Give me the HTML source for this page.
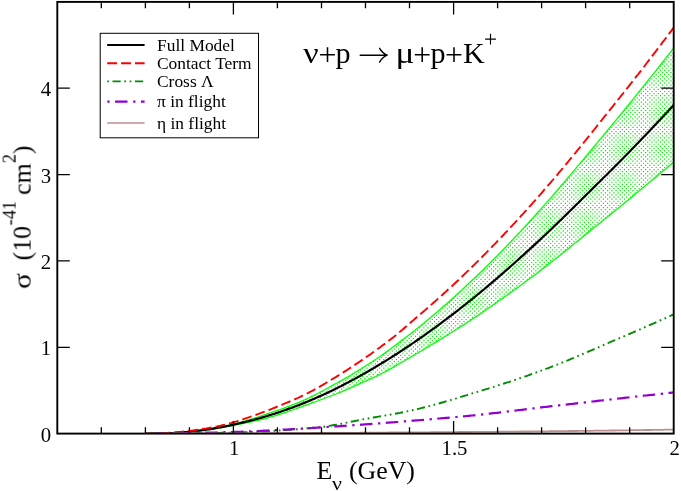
<!DOCTYPE html>
<html><head><meta charset="utf-8"><title>plot</title><style>html,body{margin:0;padding:0;background:#fff;}svg{display:block;will-change:transform;}text{font-family:"Liberation Serif",serif;fill:#000;}</style></head><body>
<svg width="681" height="491" viewBox="0 0 681 491">
<defs>
<pattern id="dots" x="626" y="112" width="38.0" height="38.0" patternUnits="userSpaceOnUse"><rect width="38.0" height="38.0" fill="#fff"/><path d="M0.00,0.00h1.2v1.2h-1.2zM4.22,0.00h1.2v1.2h-1.2zM8.44,0.00h1.2v1.2h-1.2zM12.67,0.00h1.2v1.2h-1.2zM16.89,0.00h1.2v1.2h-1.2zM21.11,0.00h1.2v1.2h-1.2zM25.33,0.00h1.2v1.2h-1.2zM29.56,0.00h1.2v1.2h-1.2zM33.78,0.00h1.2v1.2h-1.2zM2.11,2.11h1.2v1.2h-1.2zM6.33,2.11h1.2v1.2h-1.2zM10.56,2.11h1.2v1.2h-1.2zM14.78,2.11h1.2v1.2h-1.2zM19.00,2.11h1.2v1.2h-1.2zM23.22,2.11h1.2v1.2h-1.2zM27.44,2.11h1.2v1.2h-1.2zM31.67,2.11h1.2v1.2h-1.2zM35.89,2.11h1.2v1.2h-1.2zM0.00,4.22h1.2v1.2h-1.2zM4.22,4.22h1.2v1.2h-1.2zM8.44,4.22h1.2v1.2h-1.2zM12.67,4.22h1.2v1.2h-1.2zM16.89,4.22h1.2v1.2h-1.2zM21.11,4.22h1.2v1.2h-1.2zM25.33,4.22h1.2v1.2h-1.2zM29.56,4.22h1.2v1.2h-1.2zM33.78,4.22h1.2v1.2h-1.2zM2.11,6.33h1.2v1.2h-1.2zM6.33,6.33h1.2v1.2h-1.2zM10.56,6.33h1.2v1.2h-1.2zM14.78,6.33h1.2v1.2h-1.2zM19.00,6.33h1.2v1.2h-1.2zM23.22,6.33h1.2v1.2h-1.2zM27.44,6.33h1.2v1.2h-1.2zM31.67,6.33h1.2v1.2h-1.2zM35.89,6.33h1.2v1.2h-1.2zM0.00,8.44h1.2v1.2h-1.2zM4.22,8.44h1.2v1.2h-1.2zM8.44,8.44h1.2v1.2h-1.2zM12.67,8.44h1.2v1.2h-1.2zM16.89,8.44h1.2v1.2h-1.2zM21.11,8.44h1.2v1.2h-1.2zM25.33,8.44h1.2v1.2h-1.2zM29.56,8.44h1.2v1.2h-1.2zM33.78,8.44h1.2v1.2h-1.2zM2.11,10.56h1.2v1.2h-1.2zM6.33,10.56h1.2v1.2h-1.2zM10.56,10.56h1.2v1.2h-1.2zM14.78,10.56h1.2v1.2h-1.2zM19.00,10.56h1.2v1.2h-1.2zM23.22,10.56h1.2v1.2h-1.2zM27.44,10.56h1.2v1.2h-1.2zM31.67,10.56h1.2v1.2h-1.2zM35.89,10.56h1.2v1.2h-1.2zM0.00,12.67h1.2v1.2h-1.2zM4.22,12.67h1.2v1.2h-1.2zM8.44,12.67h1.2v1.2h-1.2zM12.67,12.67h1.2v1.2h-1.2zM16.89,12.67h1.2v1.2h-1.2zM21.11,12.67h1.2v1.2h-1.2zM25.33,12.67h1.2v1.2h-1.2zM29.56,12.67h1.2v1.2h-1.2zM33.78,12.67h1.2v1.2h-1.2zM2.11,14.78h1.2v1.2h-1.2zM6.33,14.78h1.2v1.2h-1.2zM10.56,14.78h1.2v1.2h-1.2zM14.78,14.78h1.2v1.2h-1.2zM19.00,14.78h1.2v1.2h-1.2zM23.22,14.78h1.2v1.2h-1.2zM27.44,14.78h1.2v1.2h-1.2zM31.67,14.78h1.2v1.2h-1.2zM35.89,14.78h1.2v1.2h-1.2zM0.00,16.89h1.2v1.2h-1.2zM4.22,16.89h1.2v1.2h-1.2zM8.44,16.89h1.2v1.2h-1.2zM12.67,16.89h1.2v1.2h-1.2zM16.89,16.89h1.2v1.2h-1.2zM21.11,16.89h1.2v1.2h-1.2zM25.33,16.89h1.2v1.2h-1.2zM29.56,16.89h1.2v1.2h-1.2zM33.78,16.89h1.2v1.2h-1.2zM2.11,19.00h1.2v1.2h-1.2zM6.33,19.00h1.2v1.2h-1.2zM10.56,19.00h1.2v1.2h-1.2zM14.78,19.00h1.2v1.2h-1.2zM19.00,19.00h1.2v1.2h-1.2zM23.22,19.00h1.2v1.2h-1.2zM27.44,19.00h1.2v1.2h-1.2zM31.67,19.00h1.2v1.2h-1.2zM35.89,19.00h1.2v1.2h-1.2zM0.00,21.11h1.2v1.2h-1.2zM4.22,21.11h1.2v1.2h-1.2zM8.44,21.11h1.2v1.2h-1.2zM12.67,21.11h1.2v1.2h-1.2zM16.89,21.11h1.2v1.2h-1.2zM21.11,21.11h1.2v1.2h-1.2zM25.33,21.11h1.2v1.2h-1.2zM29.56,21.11h1.2v1.2h-1.2zM33.78,21.11h1.2v1.2h-1.2zM2.11,23.22h1.2v1.2h-1.2zM6.33,23.22h1.2v1.2h-1.2zM10.56,23.22h1.2v1.2h-1.2zM14.78,23.22h1.2v1.2h-1.2zM19.00,23.22h1.2v1.2h-1.2zM23.22,23.22h1.2v1.2h-1.2zM27.44,23.22h1.2v1.2h-1.2zM31.67,23.22h1.2v1.2h-1.2zM35.89,23.22h1.2v1.2h-1.2zM0.00,25.33h1.2v1.2h-1.2zM4.22,25.33h1.2v1.2h-1.2zM8.44,25.33h1.2v1.2h-1.2zM12.67,25.33h1.2v1.2h-1.2zM16.89,25.33h1.2v1.2h-1.2zM21.11,25.33h1.2v1.2h-1.2zM25.33,25.33h1.2v1.2h-1.2zM29.56,25.33h1.2v1.2h-1.2zM33.78,25.33h1.2v1.2h-1.2zM2.11,27.44h1.2v1.2h-1.2zM6.33,27.44h1.2v1.2h-1.2zM10.56,27.44h1.2v1.2h-1.2zM14.78,27.44h1.2v1.2h-1.2zM19.00,27.44h1.2v1.2h-1.2zM23.22,27.44h1.2v1.2h-1.2zM27.44,27.44h1.2v1.2h-1.2zM31.67,27.44h1.2v1.2h-1.2zM35.89,27.44h1.2v1.2h-1.2zM0.00,29.56h1.2v1.2h-1.2zM4.22,29.56h1.2v1.2h-1.2zM8.44,29.56h1.2v1.2h-1.2zM12.67,29.56h1.2v1.2h-1.2zM16.89,29.56h1.2v1.2h-1.2zM21.11,29.56h1.2v1.2h-1.2zM25.33,29.56h1.2v1.2h-1.2zM29.56,29.56h1.2v1.2h-1.2zM33.78,29.56h1.2v1.2h-1.2zM2.11,31.67h1.2v1.2h-1.2zM6.33,31.67h1.2v1.2h-1.2zM10.56,31.67h1.2v1.2h-1.2zM14.78,31.67h1.2v1.2h-1.2zM19.00,31.67h1.2v1.2h-1.2zM23.22,31.67h1.2v1.2h-1.2zM27.44,31.67h1.2v1.2h-1.2zM31.67,31.67h1.2v1.2h-1.2zM35.89,31.67h1.2v1.2h-1.2zM0.00,33.78h1.2v1.2h-1.2zM4.22,33.78h1.2v1.2h-1.2zM8.44,33.78h1.2v1.2h-1.2zM12.67,33.78h1.2v1.2h-1.2zM16.89,33.78h1.2v1.2h-1.2zM21.11,33.78h1.2v1.2h-1.2zM25.33,33.78h1.2v1.2h-1.2zM29.56,33.78h1.2v1.2h-1.2zM33.78,33.78h1.2v1.2h-1.2zM2.11,35.89h1.2v1.2h-1.2zM6.33,35.89h1.2v1.2h-1.2zM10.56,35.89h1.2v1.2h-1.2zM14.78,35.89h1.2v1.2h-1.2zM19.00,35.89h1.2v1.2h-1.2zM23.22,35.89h1.2v1.2h-1.2zM27.44,35.89h1.2v1.2h-1.2zM31.67,35.89h1.2v1.2h-1.2zM35.89,35.89h1.2v1.2h-1.2z" fill="#00ea00"/></pattern>
<clipPath id="clip"><rect x="57.3" y="1.9" width="616.4000000000001" height="431.70000000000005"/></clipPath>
</defs>
<rect width="681" height="491" fill="#fff"/>
<g clip-path="url(#clip)">
<path d="M145.4,433.6 L146.7,433.6 L148.0,433.6 L149.4,433.6 L150.7,433.5 L152.0,433.5 L153.3,433.5 L154.7,433.5 L156.0,433.5 L157.3,433.5 L158.6,433.4 L160.0,433.4 L161.3,433.4 L162.6,433.3 L163.9,433.3 L165.3,433.3 L166.6,433.2 L167.9,433.2 L169.2,433.1 L170.6,433.0 L171.9,433.0 L173.2,432.9 L174.5,432.8 L175.9,432.7 L177.2,432.6 L178.5,432.6 L179.8,432.5 L181.1,432.3 L182.5,432.2 L183.8,432.1 L185.1,432.0 L186.4,431.9 L187.8,431.8 L189.1,431.6 L190.4,431.5 L191.7,431.3 L193.1,431.2 L194.4,431.0 L195.7,430.9 L197.0,430.7 L198.4,430.6 L199.7,430.4 L201.0,430.2 L202.3,430.0 L203.7,429.8 L205.0,429.6 L206.3,429.4 L207.6,429.2 L209.0,429.0 L210.3,428.8 L211.6,428.6 L212.9,428.3 L214.3,428.1 L215.6,427.8 L216.9,427.6 L218.2,427.3 L219.5,427.1 L220.9,426.8 L222.2,426.5 L223.5,426.3 L224.8,426.0 L226.2,425.7 L227.5,425.4 L228.8,425.1 L230.1,424.8 L231.5,424.5 L232.8,424.1 L234.1,423.8 L235.4,423.5 L236.8,423.1 L238.1,422.8 L239.4,422.4 L240.7,422.1 L242.1,421.7 L243.4,421.3 L244.7,421.0 L246.0,420.6 L247.4,420.2 L248.7,419.8 L250.0,419.4 L251.3,419.1 L252.6,418.6 L254.0,418.2 L255.3,417.8 L256.6,417.4 L257.9,417.0 L259.3,416.5 L260.6,416.1 L261.9,415.6 L263.2,415.2 L264.6,414.7 L265.9,414.3 L267.2,413.8 L268.5,413.4 L269.9,412.9 L271.2,412.5 L272.5,412.0 L273.8,411.6 L275.2,411.1 L276.5,410.7 L277.8,410.2 L279.1,409.8 L280.5,409.3 L281.8,408.8 L283.1,408.4 L284.4,407.9 L285.8,407.4 L287.1,406.9 L288.4,406.4 L289.7,405.9 L291.0,405.4 L292.4,404.9 L293.7,404.4 L295.0,403.9 L296.3,403.4 L297.7,402.8 L299.0,402.3 L300.3,401.7 L301.6,401.2 L303.0,400.6 L304.3,400.0 L305.6,399.4 L306.9,398.8 L308.3,398.2 L309.6,397.5 L310.9,396.9 L312.2,396.2 L313.6,395.6 L314.9,394.9 L316.2,394.2 L317.5,393.5 L318.9,392.8 L320.2,392.1 L321.5,391.4 L322.8,390.7 L324.1,390.0 L325.5,389.2 L326.8,388.5 L328.1,387.8 L329.4,387.0 L330.8,386.3 L332.1,385.6 L333.4,384.9 L334.7,384.2 L336.1,383.5 L337.4,382.8 L338.7,382.1 L340.0,381.3 L341.4,380.6 L342.7,379.9 L344.0,379.1 L345.3,378.3 L346.7,377.6 L348.0,376.8 L349.3,376.0 L350.6,375.2 L352.0,374.4 L353.3,373.6 L354.6,372.8 L355.9,372.0 L357.2,371.1 L358.6,370.3 L359.9,369.5 L361.2,368.7 L362.5,367.8 L363.9,367.0 L365.2,366.2 L366.5,365.3 L367.8,364.5 L369.2,363.7 L370.5,362.8 L371.8,362.0 L373.1,361.1 L374.5,360.2 L375.8,359.3 L377.1,358.5 L378.4,357.6 L379.8,356.7 L381.1,355.7 L382.4,354.8 L383.7,353.9 L385.1,352.9 L386.4,351.9 L387.7,351.0 L389.0,350.0 L390.4,349.0 L391.7,348.0 L393.0,347.0 L394.3,345.9 L395.6,344.9 L397.0,343.9 L398.3,342.9 L399.6,341.9 L400.9,340.9 L402.3,339.9 L403.6,339.0 L404.9,338.0 L406.2,337.0 L407.6,336.0 L408.9,335.0 L410.2,334.0 L411.5,332.9 L412.9,331.9 L414.2,330.9 L415.5,329.8 L416.8,328.8 L418.2,327.7 L419.5,326.6 L420.8,325.6 L422.1,324.5 L423.5,323.4 L424.8,322.3 L426.1,321.3 L427.4,320.2 L428.7,319.1 L430.1,318.0 L431.4,316.8 L432.7,315.7 L434.0,314.6 L435.4,313.5 L436.7,312.4 L438.0,311.2 L439.3,310.1 L440.7,308.9 L442.0,307.8 L443.3,306.6 L444.6,305.5 L446.0,304.3 L447.3,303.1 L448.6,302.0 L449.9,300.8 L451.3,299.6 L452.6,298.4 L453.9,297.2 L455.2,296.0 L456.6,294.8 L457.9,293.6 L459.2,292.4 L460.5,291.2 L461.9,290.0 L463.2,288.7 L464.5,287.5 L465.8,286.3 L467.1,285.0 L468.5,283.8 L469.8,282.6 L471.1,281.3 L472.4,280.0 L473.8,278.8 L475.1,277.5 L476.4,276.3 L477.7,275.0 L479.1,273.7 L480.4,272.4 L481.7,271.1 L483.0,269.9 L484.4,268.6 L485.7,267.3 L487.0,266.0 L488.3,264.6 L489.7,263.3 L491.0,262.0 L492.3,260.7 L493.6,259.4 L495.0,258.1 L496.3,256.7 L497.6,255.4 L498.9,254.0 L500.2,252.7 L501.6,251.3 L502.9,250.0 L504.2,248.6 L505.5,247.2 L506.9,245.9 L508.2,244.5 L509.5,243.1 L510.8,241.7 L512.2,240.3 L513.5,238.9 L514.8,237.5 L516.1,236.1 L517.5,234.7 L518.8,233.3 L520.1,231.9 L521.4,230.4 L522.8,229.0 L524.1,227.6 L525.4,226.1 L526.7,224.7 L528.1,223.2 L529.4,221.8 L530.7,220.3 L532.0,218.9 L533.3,217.4 L534.7,215.9 L536.0,214.5 L537.3,213.0 L538.6,211.5 L540.0,210.1 L541.3,208.6 L542.6,207.1 L543.9,205.6 L545.3,204.1 L546.6,202.6 L547.9,201.1 L549.2,199.6 L550.6,198.1 L551.9,196.6 L553.2,195.1 L554.5,193.5 L555.9,192.0 L557.2,190.5 L558.5,188.9 L559.8,187.4 L561.2,185.8 L562.5,184.3 L563.8,182.7 L565.1,181.2 L566.5,179.6 L567.8,178.0 L569.1,176.5 L570.4,174.9 L571.7,173.3 L573.1,171.7 L574.4,170.2 L575.7,168.6 L577.0,167.0 L578.4,165.4 L579.7,163.8 L581.0,162.2 L582.3,160.7 L583.7,159.1 L585.0,157.5 L586.3,155.9 L587.6,154.3 L589.0,152.7 L590.3,151.1 L591.6,149.5 L592.9,147.9 L594.3,146.3 L595.6,144.7 L596.9,143.2 L598.2,141.6 L599.6,140.0 L600.9,138.4 L602.2,136.8 L603.5,135.2 L604.8,133.6 L606.2,132.0 L607.5,130.4 L608.8,128.8 L610.1,127.2 L611.5,125.6 L612.8,124.0 L614.1,122.4 L615.4,120.8 L616.8,119.2 L618.1,117.6 L619.4,116.0 L620.7,114.4 L622.1,112.7 L623.4,111.1 L624.7,109.5 L626.0,107.9 L627.4,106.2 L628.7,104.6 L630.0,103.0 L631.3,101.3 L632.7,99.7 L634.0,98.1 L635.3,96.4 L636.6,94.8 L638.0,93.1 L639.3,91.5 L640.6,89.9 L641.9,88.2 L643.2,86.6 L644.6,84.9 L645.9,83.2 L647.2,81.6 L648.5,79.9 L649.9,78.3 L651.2,76.6 L652.5,74.9 L653.8,73.3 L655.2,71.6 L656.5,69.9 L657.8,68.3 L659.1,66.6 L660.5,64.9 L661.8,63.2 L663.1,61.5 L664.4,59.9 L665.8,58.2 L667.1,56.5 L668.4,54.8 L669.7,53.1 L671.1,51.4 L672.4,49.7 L673.7,48.0 L673.7,162.0 L672.4,163.1 L671.1,164.2 L669.7,165.4 L668.4,166.5 L667.1,167.6 L665.8,168.7 L664.4,169.8 L663.1,170.9 L661.8,172.0 L660.5,173.1 L659.1,174.2 L657.8,175.4 L656.5,176.5 L655.2,177.6 L653.8,178.7 L652.5,179.8 L651.2,180.9 L649.9,182.0 L648.5,183.1 L647.2,184.2 L645.9,185.3 L644.6,186.4 L643.2,187.5 L641.9,188.6 L640.6,189.7 L639.3,190.8 L638.0,191.9 L636.6,193.0 L635.3,194.1 L634.0,195.2 L632.7,196.3 L631.3,197.4 L630.0,198.5 L628.7,199.6 L627.4,200.7 L626.0,201.7 L624.7,202.8 L623.4,203.9 L622.1,205.0 L620.7,206.1 L619.4,207.2 L618.1,208.2 L616.8,209.3 L615.4,210.4 L614.1,211.5 L612.8,212.5 L611.5,213.6 L610.1,214.7 L608.8,215.7 L607.5,216.8 L606.2,217.9 L604.8,218.9 L603.5,220.0 L602.2,221.1 L600.9,222.2 L599.6,223.2 L598.2,224.3 L596.9,225.4 L595.6,226.4 L594.3,227.5 L592.9,228.6 L591.6,229.6 L590.3,230.7 L589.0,231.8 L587.6,232.9 L586.3,233.9 L585.0,235.0 L583.7,236.1 L582.3,237.2 L581.0,238.3 L579.7,239.3 L578.4,240.4 L577.0,241.5 L575.7,242.6 L574.4,243.6 L573.1,244.7 L571.7,245.8 L570.4,246.9 L569.1,247.9 L567.8,249.0 L566.5,250.1 L565.1,251.1 L563.8,252.2 L562.5,253.3 L561.2,254.3 L559.8,255.4 L558.5,256.4 L557.2,257.5 L555.9,258.5 L554.5,259.6 L553.2,260.6 L551.9,261.7 L550.6,262.7 L549.2,263.7 L547.9,264.8 L546.6,265.8 L545.3,266.8 L543.9,267.8 L542.6,268.8 L541.3,269.8 L540.0,270.9 L538.6,271.9 L537.3,272.9 L536.0,273.9 L534.7,274.9 L533.3,275.9 L532.0,276.9 L530.7,277.8 L529.4,278.8 L528.1,279.8 L526.7,280.8 L525.4,281.8 L524.1,282.8 L522.8,283.7 L521.4,284.7 L520.1,285.7 L518.8,286.7 L517.5,287.6 L516.1,288.6 L514.8,289.5 L513.5,290.5 L512.2,291.5 L510.8,292.4 L509.5,293.4 L508.2,294.3 L506.9,295.2 L505.5,296.2 L504.2,297.1 L502.9,298.1 L501.6,299.0 L500.2,299.9 L498.9,300.9 L497.6,301.8 L496.3,302.7 L495.0,303.6 L493.6,304.6 L492.3,305.5 L491.0,306.4 L489.7,307.3 L488.3,308.2 L487.0,309.1 L485.7,310.1 L484.4,311.0 L483.0,311.9 L481.7,312.8 L480.4,313.7 L479.1,314.6 L477.7,315.5 L476.4,316.4 L475.1,317.2 L473.8,318.1 L472.4,319.0 L471.1,319.9 L469.8,320.8 L468.5,321.6 L467.1,322.5 L465.8,323.4 L464.5,324.2 L463.2,325.1 L461.9,325.9 L460.5,326.8 L459.2,327.6 L457.9,328.5 L456.6,329.3 L455.2,330.2 L453.9,331.0 L452.6,331.8 L451.3,332.7 L449.9,333.5 L448.6,334.3 L447.3,335.1 L446.0,336.0 L444.6,336.8 L443.3,337.6 L442.0,338.4 L440.7,339.2 L439.3,340.0 L438.0,340.8 L436.7,341.6 L435.4,342.4 L434.0,343.2 L432.7,344.0 L431.4,344.8 L430.1,345.6 L428.7,346.4 L427.4,347.2 L426.1,348.0 L424.8,348.8 L423.5,349.6 L422.1,350.4 L420.8,351.2 L419.5,351.9 L418.2,352.7 L416.8,353.5 L415.5,354.3 L414.2,355.1 L412.9,355.8 L411.5,356.6 L410.2,357.4 L408.9,358.2 L407.6,358.9 L406.2,359.7 L404.9,360.5 L403.6,361.3 L402.3,362.0 L400.9,362.8 L399.6,363.6 L398.3,364.3 L397.0,365.1 L395.6,365.9 L394.3,366.6 L393.0,367.4 L391.7,368.2 L390.4,368.9 L389.0,369.6 L387.7,370.4 L386.4,371.1 L385.1,371.8 L383.7,372.5 L382.4,373.2 L381.1,373.9 L379.8,374.6 L378.4,375.3 L377.1,375.9 L375.8,376.6 L374.5,377.2 L373.1,377.8 L371.8,378.4 L370.5,378.9 L369.2,379.5 L367.8,380.1 L366.5,380.7 L365.2,381.2 L363.9,381.8 L362.5,382.4 L361.2,383.0 L359.9,383.6 L358.6,384.2 L357.2,384.8 L355.9,385.4 L354.6,386.0 L353.3,386.6 L352.0,387.2 L350.6,387.8 L349.3,388.4 L348.0,389.0 L346.7,389.6 L345.3,390.2 L344.0,390.7 L342.7,391.3 L341.4,391.9 L340.0,392.4 L338.7,392.9 L337.4,393.5 L336.1,394.0 L334.7,394.5 L333.4,395.0 L332.1,395.5 L330.8,396.0 L329.4,396.5 L328.1,397.0 L326.8,397.5 L325.5,398.0 L324.1,398.5 L322.8,399.0 L321.5,399.5 L320.2,400.0 L318.9,400.5 L317.5,401.0 L316.2,401.5 L314.9,402.0 L313.6,402.4 L312.2,402.9 L310.9,403.4 L309.6,403.9 L308.3,404.3 L306.9,404.8 L305.6,405.3 L304.3,405.7 L303.0,406.2 L301.6,406.7 L300.3,407.2 L299.0,407.6 L297.7,408.1 L296.3,408.6 L295.0,409.0 L293.7,409.5 L292.4,410.0 L291.0,410.4 L289.7,410.9 L288.4,411.4 L287.1,411.8 L285.8,412.3 L284.4,412.7 L283.1,413.1 L281.8,413.6 L280.5,414.0 L279.1,414.4 L277.8,414.9 L276.5,415.3 L275.2,415.7 L273.8,416.1 L272.5,416.5 L271.2,416.8 L269.9,417.2 L268.5,417.6 L267.2,418.0 L265.9,418.3 L264.6,418.7 L263.2,419.0 L261.9,419.3 L260.6,419.6 L259.3,420.0 L257.9,420.3 L256.6,420.6 L255.3,420.9 L254.0,421.2 L252.6,421.5 L251.3,421.8 L250.0,422.0 L248.7,422.3 L247.4,422.6 L246.0,422.9 L244.7,423.2 L243.4,423.4 L242.1,423.7 L240.7,424.0 L239.4,424.2 L238.1,424.5 L236.8,424.7 L235.4,425.0 L234.1,425.3 L232.8,425.5 L231.5,425.8 L230.1,426.0 L228.8,426.3 L227.5,426.5 L226.2,426.8 L224.8,427.0 L223.5,427.3 L222.2,427.5 L220.9,427.7 L219.5,427.9 L218.2,428.2 L216.9,428.4 L215.6,428.6 L214.3,428.8 L212.9,429.0 L211.6,429.2 L210.3,429.4 L209.0,429.6 L207.6,429.7 L206.3,429.9 L205.0,430.1 L203.7,430.3 L202.3,430.4 L201.0,430.6 L199.7,430.8 L198.4,430.9 L197.0,431.1 L195.7,431.2 L194.4,431.4 L193.1,431.5 L191.7,431.6 L190.4,431.8 L189.1,431.9 L187.8,432.0 L186.4,432.1 L185.1,432.2 L183.8,432.3 L182.5,432.4 L181.1,432.5 L179.8,432.6 L178.5,432.7 L177.2,432.8 L175.9,432.9 L174.5,433.0 L173.2,433.0 L171.9,433.1 L170.6,433.1 L169.2,433.2 L167.9,433.2 L166.6,433.3 L165.3,433.3 L163.9,433.4 L162.6,433.4 L161.3,433.4 L160.0,433.4 L158.6,433.5 L157.3,433.5 L156.0,433.5 L154.7,433.5 L153.3,433.5 L152.0,433.5 L150.7,433.5 L149.4,433.6 L148.0,433.6 L146.7,433.6 L145.4,433.6Z" fill="url(#dots)" stroke="none"/>
<path d="M145.4,433.6 L146.7,433.6 L148.0,433.6 L149.4,433.6 L150.7,433.5 L152.0,433.5 L153.3,433.5 L154.7,433.5 L156.0,433.5 L157.3,433.5 L158.6,433.4 L160.0,433.4 L161.3,433.4 L162.6,433.3 L163.9,433.3 L165.3,433.3 L166.6,433.2 L167.9,433.2 L169.2,433.1 L170.6,433.0 L171.9,433.0 L173.2,432.9 L174.5,432.8 L175.9,432.7 L177.2,432.6 L178.5,432.6 L179.8,432.5 L181.1,432.3 L182.5,432.2 L183.8,432.1 L185.1,432.0 L186.4,431.9 L187.8,431.8 L189.1,431.6 L190.4,431.5 L191.7,431.3 L193.1,431.2 L194.4,431.0 L195.7,430.9 L197.0,430.7 L198.4,430.6 L199.7,430.4 L201.0,430.2 L202.3,430.0 L203.7,429.8 L205.0,429.6 L206.3,429.4 L207.6,429.2 L209.0,429.0 L210.3,428.8 L211.6,428.6 L212.9,428.3 L214.3,428.1 L215.6,427.8 L216.9,427.6 L218.2,427.3 L219.5,427.1 L220.9,426.8 L222.2,426.5 L223.5,426.3 L224.8,426.0 L226.2,425.7 L227.5,425.4 L228.8,425.1 L230.1,424.8 L231.5,424.5 L232.8,424.1 L234.1,423.8 L235.4,423.5 L236.8,423.1 L238.1,422.8 L239.4,422.4 L240.7,422.1 L242.1,421.7 L243.4,421.3 L244.7,421.0 L246.0,420.6 L247.4,420.2 L248.7,419.8 L250.0,419.4 L251.3,419.1 L252.6,418.6 L254.0,418.2 L255.3,417.8 L256.6,417.4 L257.9,417.0 L259.3,416.5 L260.6,416.1 L261.9,415.6 L263.2,415.2 L264.6,414.7 L265.9,414.3 L267.2,413.8 L268.5,413.4 L269.9,412.9 L271.2,412.5 L272.5,412.0 L273.8,411.6 L275.2,411.1 L276.5,410.7 L277.8,410.2 L279.1,409.8 L280.5,409.3 L281.8,408.8 L283.1,408.4 L284.4,407.9 L285.8,407.4 L287.1,406.9 L288.4,406.4 L289.7,405.9 L291.0,405.4 L292.4,404.9 L293.7,404.4 L295.0,403.9 L296.3,403.4 L297.7,402.8 L299.0,402.3 L300.3,401.7 L301.6,401.2 L303.0,400.6 L304.3,400.0 L305.6,399.4 L306.9,398.8 L308.3,398.2 L309.6,397.5 L310.9,396.9 L312.2,396.2 L313.6,395.6 L314.9,394.9 L316.2,394.2 L317.5,393.5 L318.9,392.8 L320.2,392.1 L321.5,391.4 L322.8,390.7 L324.1,390.0 L325.5,389.2 L326.8,388.5 L328.1,387.8 L329.4,387.0 L330.8,386.3 L332.1,385.6 L333.4,384.9 L334.7,384.2 L336.1,383.5 L337.4,382.8 L338.7,382.1 L340.0,381.3 L341.4,380.6 L342.7,379.9 L344.0,379.1 L345.3,378.3 L346.7,377.6 L348.0,376.8 L349.3,376.0 L350.6,375.2 L352.0,374.4 L353.3,373.6 L354.6,372.8 L355.9,372.0 L357.2,371.1 L358.6,370.3 L359.9,369.5 L361.2,368.7 L362.5,367.8 L363.9,367.0 L365.2,366.2 L366.5,365.3 L367.8,364.5 L369.2,363.7 L370.5,362.8 L371.8,362.0 L373.1,361.1 L374.5,360.2 L375.8,359.3 L377.1,358.5 L378.4,357.6 L379.8,356.7 L381.1,355.7 L382.4,354.8 L383.7,353.9 L385.1,352.9 L386.4,351.9 L387.7,351.0 L389.0,350.0 L390.4,349.0 L391.7,348.0 L393.0,347.0 L394.3,345.9 L395.6,344.9 L397.0,343.9 L398.3,342.9 L399.6,341.9 L400.9,340.9 L402.3,339.9 L403.6,339.0 L404.9,338.0 L406.2,337.0 L407.6,336.0 L408.9,335.0 L410.2,334.0 L411.5,332.9 L412.9,331.9 L414.2,330.9 L415.5,329.8 L416.8,328.8 L418.2,327.7 L419.5,326.6 L420.8,325.6 L422.1,324.5 L423.5,323.4 L424.8,322.3 L426.1,321.3 L427.4,320.2 L428.7,319.1 L430.1,318.0 L431.4,316.8 L432.7,315.7 L434.0,314.6 L435.4,313.5 L436.7,312.4 L438.0,311.2 L439.3,310.1 L440.7,308.9 L442.0,307.8 L443.3,306.6 L444.6,305.5 L446.0,304.3 L447.3,303.1 L448.6,302.0 L449.9,300.8 L451.3,299.6 L452.6,298.4 L453.9,297.2 L455.2,296.0 L456.6,294.8 L457.9,293.6 L459.2,292.4 L460.5,291.2 L461.9,290.0 L463.2,288.7 L464.5,287.5 L465.8,286.3 L467.1,285.0 L468.5,283.8 L469.8,282.6 L471.1,281.3 L472.4,280.0 L473.8,278.8 L475.1,277.5 L476.4,276.3 L477.7,275.0 L479.1,273.7 L480.4,272.4 L481.7,271.1 L483.0,269.9 L484.4,268.6 L485.7,267.3 L487.0,266.0 L488.3,264.6 L489.7,263.3 L491.0,262.0 L492.3,260.7 L493.6,259.4 L495.0,258.1 L496.3,256.7 L497.6,255.4 L498.9,254.0 L500.2,252.7 L501.6,251.3 L502.9,250.0 L504.2,248.6 L505.5,247.2 L506.9,245.9 L508.2,244.5 L509.5,243.1 L510.8,241.7 L512.2,240.3 L513.5,238.9 L514.8,237.5 L516.1,236.1 L517.5,234.7 L518.8,233.3 L520.1,231.9 L521.4,230.4 L522.8,229.0 L524.1,227.6 L525.4,226.1 L526.7,224.7 L528.1,223.2 L529.4,221.8 L530.7,220.3 L532.0,218.9 L533.3,217.4 L534.7,215.9 L536.0,214.5 L537.3,213.0 L538.6,211.5 L540.0,210.1 L541.3,208.6 L542.6,207.1 L543.9,205.6 L545.3,204.1 L546.6,202.6 L547.9,201.1 L549.2,199.6 L550.6,198.1 L551.9,196.6 L553.2,195.1 L554.5,193.5 L555.9,192.0 L557.2,190.5 L558.5,188.9 L559.8,187.4 L561.2,185.8 L562.5,184.3 L563.8,182.7 L565.1,181.2 L566.5,179.6 L567.8,178.0 L569.1,176.5 L570.4,174.9 L571.7,173.3 L573.1,171.7 L574.4,170.2 L575.7,168.6 L577.0,167.0 L578.4,165.4 L579.7,163.8 L581.0,162.2 L582.3,160.7 L583.7,159.1 L585.0,157.5 L586.3,155.9 L587.6,154.3 L589.0,152.7 L590.3,151.1 L591.6,149.5 L592.9,147.9 L594.3,146.3 L595.6,144.7 L596.9,143.2 L598.2,141.6 L599.6,140.0 L600.9,138.4 L602.2,136.8 L603.5,135.2 L604.8,133.6 L606.2,132.0 L607.5,130.4 L608.8,128.8 L610.1,127.2 L611.5,125.6 L612.8,124.0 L614.1,122.4 L615.4,120.8 L616.8,119.2 L618.1,117.6 L619.4,116.0 L620.7,114.4 L622.1,112.7 L623.4,111.1 L624.7,109.5 L626.0,107.9 L627.4,106.2 L628.7,104.6 L630.0,103.0 L631.3,101.3 L632.7,99.7 L634.0,98.1 L635.3,96.4 L636.6,94.8 L638.0,93.1 L639.3,91.5 L640.6,89.9 L641.9,88.2 L643.2,86.6 L644.6,84.9 L645.9,83.2 L647.2,81.6 L648.5,79.9 L649.9,78.3 L651.2,76.6 L652.5,74.9 L653.8,73.3 L655.2,71.6 L656.5,69.9 L657.8,68.3 L659.1,66.6 L660.5,64.9 L661.8,63.2 L663.1,61.5 L664.4,59.9 L665.8,58.2 L667.1,56.5 L668.4,54.8 L669.7,53.1 L671.1,51.4 L672.4,49.7 L673.7,48.0" fill="none" stroke="#00ff00" stroke-width="1.3"/>
<path d="M145.4,433.6 L146.7,433.6 L148.0,433.6 L149.4,433.6 L150.7,433.5 L152.0,433.5 L153.3,433.5 L154.7,433.5 L156.0,433.5 L157.3,433.5 L158.6,433.5 L160.0,433.4 L161.3,433.4 L162.6,433.4 L163.9,433.4 L165.3,433.3 L166.6,433.3 L167.9,433.2 L169.2,433.2 L170.6,433.1 L171.9,433.1 L173.2,433.0 L174.5,433.0 L175.9,432.9 L177.2,432.8 L178.5,432.7 L179.8,432.6 L181.1,432.5 L182.5,432.4 L183.8,432.3 L185.1,432.2 L186.4,432.1 L187.8,432.0 L189.1,431.9 L190.4,431.8 L191.7,431.6 L193.1,431.5 L194.4,431.4 L195.7,431.2 L197.0,431.1 L198.4,430.9 L199.7,430.8 L201.0,430.6 L202.3,430.4 L203.7,430.3 L205.0,430.1 L206.3,429.9 L207.6,429.7 L209.0,429.6 L210.3,429.4 L211.6,429.2 L212.9,429.0 L214.3,428.8 L215.6,428.6 L216.9,428.4 L218.2,428.2 L219.5,427.9 L220.9,427.7 L222.2,427.5 L223.5,427.3 L224.8,427.0 L226.2,426.8 L227.5,426.5 L228.8,426.3 L230.1,426.0 L231.5,425.8 L232.8,425.5 L234.1,425.3 L235.4,425.0 L236.8,424.7 L238.1,424.5 L239.4,424.2 L240.7,424.0 L242.1,423.7 L243.4,423.4 L244.7,423.2 L246.0,422.9 L247.4,422.6 L248.7,422.3 L250.0,422.0 L251.3,421.8 L252.6,421.5 L254.0,421.2 L255.3,420.9 L256.6,420.6 L257.9,420.3 L259.3,420.0 L260.6,419.6 L261.9,419.3 L263.2,419.0 L264.6,418.7 L265.9,418.3 L267.2,418.0 L268.5,417.6 L269.9,417.2 L271.2,416.8 L272.5,416.5 L273.8,416.1 L275.2,415.7 L276.5,415.3 L277.8,414.9 L279.1,414.4 L280.5,414.0 L281.8,413.6 L283.1,413.1 L284.4,412.7 L285.8,412.3 L287.1,411.8 L288.4,411.4 L289.7,410.9 L291.0,410.4 L292.4,410.0 L293.7,409.5 L295.0,409.0 L296.3,408.6 L297.7,408.1 L299.0,407.6 L300.3,407.2 L301.6,406.7 L303.0,406.2 L304.3,405.7 L305.6,405.3 L306.9,404.8 L308.3,404.3 L309.6,403.9 L310.9,403.4 L312.2,402.9 L313.6,402.4 L314.9,402.0 L316.2,401.5 L317.5,401.0 L318.9,400.5 L320.2,400.0 L321.5,399.5 L322.8,399.0 L324.1,398.5 L325.5,398.0 L326.8,397.5 L328.1,397.0 L329.4,396.5 L330.8,396.0 L332.1,395.5 L333.4,395.0 L334.7,394.5 L336.1,394.0 L337.4,393.5 L338.7,392.9 L340.0,392.4 L341.4,391.9 L342.7,391.3 L344.0,390.7 L345.3,390.2 L346.7,389.6 L348.0,389.0 L349.3,388.4 L350.6,387.8 L352.0,387.2 L353.3,386.6 L354.6,386.0 L355.9,385.4 L357.2,384.8 L358.6,384.2 L359.9,383.6 L361.2,383.0 L362.5,382.4 L363.9,381.8 L365.2,381.2 L366.5,380.7 L367.8,380.1 L369.2,379.5 L370.5,378.9 L371.8,378.4 L373.1,377.8 L374.5,377.2 L375.8,376.6 L377.1,375.9 L378.4,375.3 L379.8,374.6 L381.1,373.9 L382.4,373.2 L383.7,372.5 L385.1,371.8 L386.4,371.1 L387.7,370.4 L389.0,369.6 L390.4,368.9 L391.7,368.2 L393.0,367.4 L394.3,366.6 L395.6,365.9 L397.0,365.1 L398.3,364.3 L399.6,363.6 L400.9,362.8 L402.3,362.0 L403.6,361.3 L404.9,360.5 L406.2,359.7 L407.6,358.9 L408.9,358.2 L410.2,357.4 L411.5,356.6 L412.9,355.8 L414.2,355.1 L415.5,354.3 L416.8,353.5 L418.2,352.7 L419.5,351.9 L420.8,351.2 L422.1,350.4 L423.5,349.6 L424.8,348.8 L426.1,348.0 L427.4,347.2 L428.7,346.4 L430.1,345.6 L431.4,344.8 L432.7,344.0 L434.0,343.2 L435.4,342.4 L436.7,341.6 L438.0,340.8 L439.3,340.0 L440.7,339.2 L442.0,338.4 L443.3,337.6 L444.6,336.8 L446.0,336.0 L447.3,335.1 L448.6,334.3 L449.9,333.5 L451.3,332.7 L452.6,331.8 L453.9,331.0 L455.2,330.2 L456.6,329.3 L457.9,328.5 L459.2,327.6 L460.5,326.8 L461.9,325.9 L463.2,325.1 L464.5,324.2 L465.8,323.4 L467.1,322.5 L468.5,321.6 L469.8,320.8 L471.1,319.9 L472.4,319.0 L473.8,318.1 L475.1,317.2 L476.4,316.4 L477.7,315.5 L479.1,314.6 L480.4,313.7 L481.7,312.8 L483.0,311.9 L484.4,311.0 L485.7,310.1 L487.0,309.1 L488.3,308.2 L489.7,307.3 L491.0,306.4 L492.3,305.5 L493.6,304.6 L495.0,303.6 L496.3,302.7 L497.6,301.8 L498.9,300.9 L500.2,299.9 L501.6,299.0 L502.9,298.1 L504.2,297.1 L505.5,296.2 L506.9,295.2 L508.2,294.3 L509.5,293.4 L510.8,292.4 L512.2,291.5 L513.5,290.5 L514.8,289.5 L516.1,288.6 L517.5,287.6 L518.8,286.7 L520.1,285.7 L521.4,284.7 L522.8,283.7 L524.1,282.8 L525.4,281.8 L526.7,280.8 L528.1,279.8 L529.4,278.8 L530.7,277.8 L532.0,276.9 L533.3,275.9 L534.7,274.9 L536.0,273.9 L537.3,272.9 L538.6,271.9 L540.0,270.9 L541.3,269.8 L542.6,268.8 L543.9,267.8 L545.3,266.8 L546.6,265.8 L547.9,264.8 L549.2,263.7 L550.6,262.7 L551.9,261.7 L553.2,260.6 L554.5,259.6 L555.9,258.5 L557.2,257.5 L558.5,256.4 L559.8,255.4 L561.2,254.3 L562.5,253.3 L563.8,252.2 L565.1,251.1 L566.5,250.1 L567.8,249.0 L569.1,247.9 L570.4,246.9 L571.7,245.8 L573.1,244.7 L574.4,243.6 L575.7,242.6 L577.0,241.5 L578.4,240.4 L579.7,239.3 L581.0,238.3 L582.3,237.2 L583.7,236.1 L585.0,235.0 L586.3,233.9 L587.6,232.9 L589.0,231.8 L590.3,230.7 L591.6,229.6 L592.9,228.6 L594.3,227.5 L595.6,226.4 L596.9,225.4 L598.2,224.3 L599.6,223.2 L600.9,222.2 L602.2,221.1 L603.5,220.0 L604.8,218.9 L606.2,217.9 L607.5,216.8 L608.8,215.7 L610.1,214.7 L611.5,213.6 L612.8,212.5 L614.1,211.5 L615.4,210.4 L616.8,209.3 L618.1,208.2 L619.4,207.2 L620.7,206.1 L622.1,205.0 L623.4,203.9 L624.7,202.8 L626.0,201.7 L627.4,200.7 L628.7,199.6 L630.0,198.5 L631.3,197.4 L632.7,196.3 L634.0,195.2 L635.3,194.1 L636.6,193.0 L638.0,191.9 L639.3,190.8 L640.6,189.7 L641.9,188.6 L643.2,187.5 L644.6,186.4 L645.9,185.3 L647.2,184.2 L648.5,183.1 L649.9,182.0 L651.2,180.9 L652.5,179.8 L653.8,178.7 L655.2,177.6 L656.5,176.5 L657.8,175.4 L659.1,174.2 L660.5,173.1 L661.8,172.0 L663.1,170.9 L664.4,169.8 L665.8,168.7 L667.1,167.6 L668.4,166.5 L669.7,165.4 L671.1,164.2 L672.4,163.1 L673.7,162.0" fill="none" stroke="#00ff00" stroke-width="1.3"/>
<path d="M145.4,433.6 L146.7,433.6 L148.0,433.6 L149.4,433.6 L150.7,433.5 L152.0,433.5 L153.3,433.5 L154.7,433.5 L156.0,433.5 L157.3,433.5 L158.6,433.4 L160.0,433.4 L161.3,433.4 L162.6,433.4 L163.9,433.3 L165.3,433.3 L166.6,433.2 L167.9,433.2 L169.2,433.1 L170.6,433.1 L171.9,433.0 L173.2,433.0 L174.5,432.9 L175.9,432.8 L177.2,432.7 L178.5,432.6 L179.8,432.5 L181.1,432.4 L182.5,432.3 L183.8,432.2 L185.1,432.1 L186.4,432.0 L187.8,431.9 L189.1,431.8 L190.4,431.6 L191.7,431.5 L193.1,431.4 L194.4,431.2 L195.7,431.1 L197.0,430.9 L198.4,430.7 L199.7,430.6 L201.0,430.4 L202.3,430.2 L203.7,430.1 L205.0,429.9 L206.3,429.7 L207.6,429.5 L209.0,429.3 L210.3,429.1 L211.6,428.9 L212.9,428.7 L214.3,428.4 L215.6,428.2 L216.9,428.0 L218.2,427.7 L219.5,427.5 L220.9,427.3 L222.2,427.0 L223.5,426.8 L224.8,426.5 L226.2,426.2 L227.5,426.0 L228.8,425.7 L230.1,425.4 L231.5,425.1 L232.8,424.8 L234.1,424.5 L235.4,424.2 L236.8,423.9 L238.1,423.6 L239.4,423.3 L240.7,423.0 L242.1,422.7 L243.4,422.4 L244.7,422.1 L246.0,421.7 L247.4,421.4 L248.7,421.1 L250.0,420.7 L251.3,420.4 L252.6,420.1 L254.0,419.7 L255.3,419.4 L256.6,419.0 L257.9,418.6 L259.3,418.3 L260.6,417.9 L261.9,417.5 L263.2,417.1 L264.6,416.7 L265.9,416.3 L267.2,415.9 L268.5,415.5 L269.9,415.1 L271.2,414.7 L272.5,414.3 L273.8,413.9 L275.2,413.5 L276.5,413.0 L277.8,412.6 L279.1,412.1 L280.5,411.7 L281.8,411.2 L283.1,410.8 L284.4,410.3 L285.8,409.9 L287.1,409.4 L288.4,408.9 L289.7,408.4 L291.0,408.0 L292.4,407.5 L293.7,407.0 L295.0,406.5 L296.3,406.0 L297.7,405.5 L299.0,405.0 L300.3,404.4 L301.6,403.9 L303.0,403.4 L304.3,402.9 L305.6,402.3 L306.9,401.8 L308.3,401.2 L309.6,400.7 L310.9,400.1 L312.2,399.6 L313.6,399.0 L314.9,398.4 L316.2,397.8 L317.5,397.3 L318.9,396.7 L320.2,396.1 L321.5,395.5 L322.8,394.9 L324.1,394.3 L325.5,393.7 L326.8,393.0 L328.1,392.4 L329.4,391.8 L330.8,391.2 L332.1,390.5 L333.4,389.9 L334.7,389.2 L336.1,388.6 L337.4,387.9 L338.7,387.2 L340.0,386.6 L341.4,385.9 L342.7,385.2 L344.0,384.5 L345.3,383.8 L346.7,383.1 L348.0,382.5 L349.3,381.8 L350.6,381.0 L352.0,380.3 L353.3,379.6 L354.6,378.9 L355.9,378.2 L357.2,377.5 L358.6,376.7 L359.9,376.0 L361.2,375.2 L362.5,374.5 L363.9,373.7 L365.2,373.0 L366.5,372.2 L367.8,371.5 L369.2,370.7 L370.5,369.9 L371.8,369.2 L373.1,368.4 L374.5,367.6 L375.8,366.8 L377.1,366.0 L378.4,365.2 L379.8,364.4 L381.1,363.6 L382.4,362.8 L383.7,362.0 L385.1,361.2 L386.4,360.4 L387.7,359.6 L389.0,358.7 L390.4,357.9 L391.7,357.1 L393.0,356.2 L394.3,355.4 L395.6,354.5 L397.0,353.7 L398.3,352.8 L399.6,352.0 L400.9,351.1 L402.3,350.3 L403.6,349.4 L404.9,348.5 L406.2,347.6 L407.6,346.7 L408.9,345.9 L410.2,345.0 L411.5,344.1 L412.9,343.2 L414.2,342.3 L415.5,341.4 L416.8,340.5 L418.2,339.5 L419.5,338.6 L420.8,337.7 L422.1,336.8 L423.5,335.8 L424.8,334.9 L426.1,334.0 L427.4,333.0 L428.7,332.1 L430.1,331.1 L431.4,330.2 L432.7,329.2 L434.0,328.3 L435.4,327.3 L436.7,326.3 L438.0,325.3 L439.3,324.4 L440.7,323.4 L442.0,322.4 L443.3,321.4 L444.6,320.4 L446.0,319.4 L447.3,318.4 L448.6,317.4 L449.9,316.4 L451.3,315.4 L452.6,314.4 L453.9,313.4 L455.2,312.4 L456.6,311.3 L457.9,310.3 L459.2,309.3 L460.5,308.2 L461.9,307.2 L463.2,306.1 L464.5,305.1 L465.8,304.1 L467.1,303.0 L468.5,301.9 L469.8,300.9 L471.1,299.8 L472.4,298.8 L473.8,297.7 L475.1,296.6 L476.4,295.5 L477.7,294.5 L479.1,293.4 L480.4,292.3 L481.7,291.2 L483.0,290.1 L484.4,289.0 L485.7,287.9 L487.0,286.8 L488.3,285.7 L489.7,284.5 L491.0,283.4 L492.3,282.3 L493.6,281.2 L495.0,280.0 L496.3,278.9 L497.6,277.8 L498.9,276.6 L500.2,275.5 L501.6,274.3 L502.9,273.2 L504.2,272.0 L505.5,270.9 L506.9,269.7 L508.2,268.6 L509.5,267.4 L510.8,266.2 L512.2,265.0 L513.5,263.9 L514.8,262.7 L516.1,261.5 L517.5,260.3 L518.8,259.1 L520.1,257.9 L521.4,256.7 L522.8,255.6 L524.1,254.4 L525.4,253.1 L526.7,251.9 L528.1,250.7 L529.4,249.5 L530.7,248.3 L532.0,247.1 L533.3,245.9 L534.7,244.6 L536.0,243.4 L537.3,242.2 L538.6,241.0 L540.0,239.7 L541.3,238.5 L542.6,237.2 L543.9,236.0 L545.3,234.8 L546.6,233.5 L547.9,232.3 L549.2,231.0 L550.6,229.7 L551.9,228.5 L553.2,227.2 L554.5,225.9 L555.9,224.7 L557.2,223.4 L558.5,222.1 L559.8,220.8 L561.2,219.6 L562.5,218.3 L563.8,217.0 L565.1,215.7 L566.5,214.4 L567.8,213.1 L569.1,211.8 L570.4,210.5 L571.7,209.2 L573.1,207.9 L574.4,206.6 L575.7,205.3 L577.0,204.0 L578.4,202.7 L579.7,201.4 L581.0,200.1 L582.3,198.7 L583.7,197.4 L585.0,196.1 L586.3,194.8 L587.6,193.5 L589.0,192.2 L590.3,190.9 L591.6,189.6 L592.9,188.3 L594.3,186.9 L595.6,185.6 L596.9,184.3 L598.2,183.0 L599.6,181.7 L600.9,180.4 L602.2,179.1 L603.5,177.8 L604.8,176.5 L606.2,175.2 L607.5,173.9 L608.8,172.5 L610.1,171.2 L611.5,169.9 L612.8,168.6 L614.1,167.3 L615.4,165.9 L616.8,164.6 L618.1,163.3 L619.4,161.9 L620.7,160.6 L622.1,159.3 L623.4,157.9 L624.7,156.6 L626.0,155.2 L627.4,153.9 L628.7,152.5 L630.0,151.2 L631.3,149.8 L632.7,148.4 L634.0,147.1 L635.3,145.7 L636.6,144.3 L638.0,143.0 L639.3,141.6 L640.6,140.2 L641.9,138.8 L643.2,137.4 L644.6,136.0 L645.9,134.7 L647.2,133.3 L648.5,131.9 L649.9,130.5 L651.2,129.1 L652.5,127.7 L653.8,126.3 L655.2,124.9 L656.5,123.5 L657.8,122.1 L659.1,120.7 L660.5,119.2 L661.8,117.8 L663.1,116.4 L664.4,115.0 L665.8,113.6 L667.1,112.2 L668.4,110.7 L669.7,109.3 L671.1,107.9 L672.4,106.4 L673.7,105.0" fill="none" stroke="#000" stroke-width="2.2"/>
<path d="M145.4,433.6 L146.7,433.6 L148.0,433.6 L149.4,433.6 L150.7,433.5 L152.0,433.5 L153.3,433.5 L154.7,433.4 L156.0,433.4 L157.3,433.4 L158.6,433.3 L160.0,433.3 L161.3,433.2 L162.6,433.1 L163.9,433.1 L165.3,433.0 L166.6,432.9 L167.9,432.9 L169.2,432.8 L170.6,432.7 L171.9,432.6 L173.2,432.5 L174.5,432.4 L175.9,432.3 L177.2,432.1 L178.5,432.0 L179.8,431.9 L181.1,431.8 L182.5,431.6 L183.8,431.5 L185.1,431.4 L186.4,431.2 L187.8,431.0 L189.1,430.9 L190.4,430.7 L191.7,430.6 L193.1,430.4 L194.4,430.2 L195.7,430.0 L197.0,429.8 L198.4,429.6 L199.7,429.4 L201.0,429.2 L202.3,429.0 L203.7,428.8 L205.0,428.6 L206.3,428.4 L207.6,428.1 L209.0,427.9 L210.3,427.7 L211.6,427.5 L212.9,427.2 L214.3,427.0 L215.6,426.7 L216.9,426.5 L218.2,426.2 L219.5,425.9 L220.9,425.6 L222.2,425.3 L223.5,425.0 L224.8,424.7 L226.2,424.3 L227.5,424.0 L228.8,423.6 L230.1,423.3 L231.5,422.9 L232.8,422.5 L234.1,422.1 L235.4,421.7 L236.8,421.3 L238.1,420.8 L239.4,420.4 L240.7,420.0 L242.1,419.5 L243.4,419.1 L244.7,418.7 L246.0,418.2 L247.4,417.8 L248.7,417.3 L250.0,416.9 L251.3,416.4 L252.6,416.0 L254.0,415.5 L255.3,415.1 L256.6,414.6 L257.9,414.1 L259.3,413.7 L260.6,413.2 L261.9,412.7 L263.2,412.2 L264.6,411.7 L265.9,411.2 L267.2,410.7 L268.5,410.2 L269.9,409.6 L271.2,409.1 L272.5,408.6 L273.8,408.0 L275.2,407.5 L276.5,407.0 L277.8,406.4 L279.1,405.9 L280.5,405.3 L281.8,404.8 L283.1,404.2 L284.4,403.7 L285.8,403.1 L287.1,402.6 L288.4,402.0 L289.7,401.5 L291.0,400.9 L292.4,400.3 L293.7,399.7 L295.0,399.2 L296.3,398.6 L297.7,398.0 L299.0,397.4 L300.3,396.8 L301.6,396.1 L303.0,395.5 L304.3,394.9 L305.6,394.2 L306.9,393.5 L308.3,392.9 L309.6,392.2 L310.9,391.5 L312.2,390.8 L313.6,390.1 L314.9,389.3 L316.2,388.6 L317.5,387.9 L318.9,387.1 L320.2,386.4 L321.5,385.6 L322.8,384.9 L324.1,384.1 L325.5,383.3 L326.8,382.5 L328.1,381.7 L329.4,380.9 L330.8,380.2 L332.1,379.3 L333.4,378.5 L334.7,377.7 L336.1,376.9 L337.4,376.1 L338.7,375.3 L340.0,374.4 L341.4,373.6 L342.7,372.7 L344.0,371.9 L345.3,371.1 L346.7,370.2 L348.0,369.4 L349.3,368.5 L350.6,367.6 L352.0,366.8 L353.3,365.9 L354.6,365.0 L355.9,364.1 L357.2,363.3 L358.6,362.4 L359.9,361.5 L361.2,360.6 L362.5,359.7 L363.9,358.8 L365.2,357.9 L366.5,356.9 L367.8,356.0 L369.2,355.1 L370.5,354.2 L371.8,353.2 L373.1,352.3 L374.5,351.3 L375.8,350.4 L377.1,349.4 L378.4,348.5 L379.8,347.5 L381.1,346.5 L382.4,345.5 L383.7,344.6 L385.1,343.6 L386.4,342.6 L387.7,341.6 L389.0,340.6 L390.4,339.6 L391.7,338.5 L393.0,337.5 L394.3,336.4 L395.6,335.4 L397.0,334.3 L398.3,333.2 L399.6,332.1 L400.9,330.9 L402.3,329.8 L403.6,328.7 L404.9,327.5 L406.2,326.4 L407.6,325.3 L408.9,324.1 L410.2,322.9 L411.5,321.8 L412.9,320.6 L414.2,319.5 L415.5,318.3 L416.8,317.2 L418.2,316.1 L419.5,314.9 L420.8,313.8 L422.1,312.7 L423.5,311.5 L424.8,310.4 L426.1,309.2 L427.4,308.1 L428.7,306.9 L430.1,305.8 L431.4,304.6 L432.7,303.4 L434.0,302.3 L435.4,301.1 L436.7,299.9 L438.0,298.7 L439.3,297.6 L440.7,296.4 L442.0,295.2 L443.3,294.0 L444.6,292.8 L446.0,291.6 L447.3,290.3 L448.6,289.1 L449.9,287.9 L451.3,286.7 L452.6,285.5 L453.9,284.2 L455.2,283.0 L456.6,281.7 L457.9,280.5 L459.2,279.2 L460.5,278.0 L461.9,276.7 L463.2,275.5 L464.5,274.2 L465.8,272.9 L467.1,271.6 L468.5,270.4 L469.8,269.1 L471.1,267.8 L472.4,266.5 L473.8,265.2 L475.1,263.9 L476.4,262.6 L477.7,261.3 L479.1,259.9 L480.4,258.6 L481.7,257.3 L483.0,256.0 L484.4,254.6 L485.7,253.3 L487.0,251.9 L488.3,250.6 L489.7,249.2 L491.0,247.9 L492.3,246.5 L493.6,245.2 L495.0,243.8 L496.3,242.4 L497.6,241.0 L498.9,239.7 L500.2,238.3 L501.6,236.9 L502.9,235.5 L504.2,234.1 L505.5,232.7 L506.9,231.3 L508.2,229.9 L509.5,228.5 L510.8,227.0 L512.2,225.6 L513.5,224.2 L514.8,222.8 L516.1,221.3 L517.5,219.9 L518.8,218.4 L520.1,217.0 L521.4,215.5 L522.8,214.1 L524.1,212.6 L525.4,211.2 L526.7,209.7 L528.1,208.2 L529.4,206.7 L530.7,205.3 L532.0,203.8 L533.3,202.3 L534.7,200.8 L536.0,199.3 L537.3,197.8 L538.6,196.3 L540.0,194.8 L541.3,193.3 L542.6,191.8 L543.9,190.2 L545.3,188.7 L546.6,187.2 L547.9,185.7 L549.2,184.1 L550.6,182.6 L551.9,181.0 L553.2,179.5 L554.5,177.9 L555.9,176.4 L557.2,174.8 L558.5,173.2 L559.8,171.7 L561.2,170.1 L562.5,168.5 L563.8,166.9 L565.1,165.3 L566.5,163.7 L567.8,162.1 L569.1,160.5 L570.4,158.9 L571.7,157.3 L573.1,155.7 L574.4,154.1 L575.7,152.5 L577.0,150.8 L578.4,149.2 L579.7,147.6 L581.0,146.0 L582.3,144.3 L583.7,142.7 L585.0,141.0 L586.3,139.4 L587.6,137.8 L589.0,136.1 L590.3,134.5 L591.6,132.8 L592.9,131.2 L594.3,129.5 L595.6,127.8 L596.9,126.2 L598.2,124.5 L599.6,122.9 L600.9,121.2 L602.2,119.5 L603.5,117.9 L604.8,116.2 L606.2,114.6 L607.5,112.9 L608.8,111.2 L610.1,109.6 L611.5,107.9 L612.8,106.3 L614.1,104.6 L615.4,103.0 L616.8,101.3 L618.1,99.6 L619.4,98.0 L620.7,96.3 L622.1,94.6 L623.4,93.0 L624.7,91.3 L626.0,89.6 L627.4,88.0 L628.7,86.3 L630.0,84.6 L631.3,83.0 L632.7,81.3 L634.0,79.6 L635.3,77.9 L636.6,76.2 L638.0,74.5 L639.3,72.8 L640.6,71.1 L641.9,69.4 L643.2,67.7 L644.6,66.0 L645.9,64.2 L647.2,62.5 L648.5,60.8 L649.9,59.1 L651.2,57.3 L652.5,55.6 L653.8,53.9 L655.2,52.2 L656.5,50.4 L657.8,48.7 L659.1,46.9 L660.5,45.2 L661.8,43.4 L663.1,41.7 L664.4,40.0 L665.8,38.2 L667.1,36.4 L668.4,34.7 L669.7,32.9 L671.1,31.2 L672.4,29.4 L673.7,27.6" fill="none" stroke="#ff0000" stroke-width="1.9" stroke-dasharray="9.85 4.05" stroke-dashoffset="12.82"/>
<path d="M145.4,433.6 L147.2,433.6 L148.9,433.6 L150.7,433.6 L152.5,433.6 L154.2,433.6 L156.0,433.6 L157.8,433.6 L159.5,433.6 L161.3,433.6 L163.1,433.6 L164.8,433.5 L166.6,433.5 L168.4,433.5 L170.1,433.5 L171.9,433.5 L173.7,433.5 L175.4,433.5 L177.2,433.4 L179.0,433.4 L180.7,433.4 L182.5,433.4 L184.3,433.4 L186.0,433.4 L187.8,433.3 L189.6,433.3 L191.3,433.3 L193.1,433.3 L194.9,433.2 L196.6,433.2 L198.4,433.2 L200.2,433.2 L201.9,433.1 L203.7,433.1 L205.5,433.1 L207.2,433.1 L209.0,433.0 L210.8,433.0 L212.5,433.0 L214.3,432.9 L216.1,432.9 L217.8,432.9 L219.6,432.9 L221.4,432.8 L223.1,432.8 L224.9,432.8 L226.7,432.7 L228.4,432.7 L230.2,432.7 L232.0,432.6 L233.7,432.6 L235.5,432.6 L237.3,432.5 L239.0,432.5 L240.8,432.4 L242.6,432.3 L244.3,432.3 L246.1,432.2 L247.9,432.1 L249.6,432.1 L251.4,432.0 L253.2,431.9 L254.9,431.8 L256.7,431.7 L258.5,431.6 L260.2,431.6 L262.0,431.5 L263.8,431.4 L265.5,431.3 L267.3,431.2 L269.1,431.1 L270.8,431.0 L272.6,430.9 L274.4,430.8 L276.1,430.6 L277.9,430.5 L279.7,430.4 L281.5,430.3 L283.2,430.2 L285.0,430.1 L286.8,430.0 L288.5,429.9 L290.3,429.7 L292.1,429.6 L293.8,429.5 L295.6,429.4 L297.4,429.2 L299.1,429.1 L300.9,428.9 L302.7,428.8 L304.4,428.6 L306.2,428.5 L308.0,428.3 L309.7,428.2 L311.5,428.0 L313.3,427.8 L315.0,427.6 L316.8,427.5 L318.6,427.3 L320.3,427.1 L322.1,426.9 L323.9,426.7 L325.6,426.4 L327.4,426.2 L329.2,425.9 L330.9,425.6 L332.7,425.3 L334.5,425.0 L336.2,424.7 L338.0,424.4 L339.8,424.0 L341.5,423.7 L343.3,423.3 L345.1,423.0 L346.8,422.6 L348.6,422.2 L350.4,421.9 L352.1,421.5 L353.9,421.2 L355.7,420.8 L357.4,420.5 L359.2,420.1 L361.0,419.8 L362.7,419.4 L364.5,419.1 L366.3,418.8 L368.0,418.5 L369.8,418.1 L371.6,417.8 L373.3,417.5 L375.1,417.2 L376.9,416.9 L378.6,416.6 L380.4,416.3 L382.2,416.0 L383.9,415.7 L385.7,415.4 L387.5,415.1 L389.2,414.8 L391.0,414.5 L392.8,414.2 L394.5,413.9 L396.3,413.5 L398.1,413.2 L399.8,412.9 L401.6,412.5 L403.4,412.2 L405.1,411.8 L406.9,411.4 L408.7,411.1 L410.4,410.7 L412.2,410.3 L414.0,409.9 L415.7,409.5 L417.5,409.1 L419.3,408.6 L421.0,408.2 L422.8,407.7 L424.6,407.3 L426.3,406.8 L428.1,406.4 L429.9,405.9 L431.6,405.4 L433.4,404.9 L435.2,404.5 L436.9,404.0 L438.7,403.5 L440.5,403.0 L442.2,402.5 L444.0,402.0 L445.8,401.4 L447.5,400.9 L449.3,400.4 L451.1,399.9 L452.8,399.3 L454.6,398.8 L456.4,398.3 L458.1,397.7 L459.9,397.2 L461.7,396.7 L463.4,396.1 L465.2,395.6 L467.0,395.1 L468.7,394.5 L470.5,394.0 L472.3,393.4 L474.0,392.9 L475.8,392.4 L477.6,391.8 L479.3,391.3 L481.1,390.7 L482.9,390.2 L484.6,389.7 L486.4,389.1 L488.2,388.6 L489.9,388.0 L491.7,387.4 L493.5,386.9 L495.2,386.3 L497.0,385.8 L498.8,385.2 L500.5,384.6 L502.3,384.1 L504.1,383.5 L505.8,382.9 L507.6,382.3 L509.4,381.8 L511.1,381.2 L512.9,380.6 L514.7,380.0 L516.4,379.4 L518.2,378.8 L520.0,378.2 L521.7,377.6 L523.5,377.0 L525.3,376.4 L527.0,375.8 L528.8,375.1 L530.6,374.5 L532.3,373.9 L534.1,373.3 L535.9,372.6 L537.6,372.0 L539.4,371.3 L541.2,370.7 L543.0,370.1 L544.7,369.4 L546.5,368.7 L548.3,368.1 L550.0,367.4 L551.8,366.7 L553.6,366.1 L555.3,365.4 L557.1,364.7 L558.9,364.0 L560.6,363.3 L562.4,362.5 L564.2,361.8 L565.9,361.1 L567.7,360.4 L569.5,359.6 L571.2,358.9 L573.0,358.2 L574.8,357.4 L576.5,356.7 L578.3,355.9 L580.1,355.2 L581.8,354.4 L583.6,353.7 L585.4,352.9 L587.1,352.2 L588.9,351.4 L590.7,350.6 L592.4,349.9 L594.2,349.1 L596.0,348.3 L597.7,347.6 L599.5,346.8 L601.3,346.1 L603.0,345.3 L604.8,344.5 L606.6,343.8 L608.3,343.0 L610.1,342.2 L611.9,341.5 L613.6,340.7 L615.4,340.0 L617.2,339.2 L618.9,338.5 L620.7,337.7 L622.5,336.9 L624.2,336.2 L626.0,335.4 L627.8,334.7 L629.5,333.9 L631.3,333.1 L633.1,332.4 L634.8,331.6 L636.6,330.8 L638.4,330.0 L640.1,329.3 L641.9,328.5 L643.7,327.7 L645.4,327.0 L647.2,326.2 L649.0,325.4 L650.7,324.6 L652.5,323.8 L654.3,323.1 L656.0,322.3 L657.8,321.5 L659.6,320.7 L661.3,319.9 L663.1,319.1 L664.9,318.4 L666.6,317.6 L668.4,316.8 L670.2,316.0 L671.9,315.2 L673.7,314.4" fill="none" stroke="#008b00" stroke-width="1.9" stroke-dasharray="8.2 3.62 1.7 3.62 1.7 3.61" stroke-dashoffset="18.33"/>
<path d="M145.4,433.6 L147.2,433.6 L148.9,433.6 L150.7,433.6 L152.5,433.6 L154.2,433.6 L156.0,433.6 L157.8,433.6 L159.5,433.5 L161.3,433.5 L163.1,433.5 L164.8,433.5 L166.6,433.5 L168.4,433.5 L170.1,433.4 L171.9,433.4 L173.7,433.4 L175.4,433.4 L177.2,433.3 L179.0,433.3 L180.7,433.3 L182.5,433.2 L184.3,433.2 L186.0,433.2 L187.8,433.1 L189.6,433.1 L191.3,433.1 L193.1,433.0 L194.9,433.0 L196.6,432.9 L198.4,432.9 L200.2,432.9 L201.9,432.8 L203.7,432.8 L205.5,432.7 L207.2,432.7 L209.0,432.6 L210.8,432.6 L212.5,432.6 L214.3,432.5 L216.1,432.5 L217.8,432.4 L219.6,432.4 L221.4,432.3 L223.1,432.3 L224.9,432.2 L226.7,432.2 L228.4,432.1 L230.2,432.1 L232.0,432.0 L233.7,432.0 L235.5,431.9 L237.3,431.9 L239.0,431.8 L240.8,431.8 L242.6,431.7 L244.3,431.6 L246.1,431.6 L247.9,431.5 L249.6,431.4 L251.4,431.3 L253.2,431.2 L254.9,431.1 L256.7,431.1 L258.5,431.0 L260.2,430.9 L262.0,430.8 L263.8,430.7 L265.5,430.6 L267.3,430.5 L269.1,430.4 L270.8,430.3 L272.6,430.2 L274.4,430.1 L276.1,430.0 L277.9,430.0 L279.7,429.9 L281.5,429.8 L283.2,429.7 L285.0,429.6 L286.8,429.5 L288.5,429.4 L290.3,429.3 L292.1,429.2 L293.8,429.1 L295.6,429.0 L297.4,428.9 L299.1,428.8 L300.9,428.7 L302.7,428.5 L304.4,428.4 L306.2,428.3 L308.0,428.2 L309.7,428.1 L311.5,428.0 L313.3,427.9 L315.0,427.8 L316.8,427.7 L318.6,427.6 L320.3,427.4 L322.1,427.3 L323.9,427.2 L325.6,427.1 L327.4,427.0 L329.2,426.9 L330.9,426.8 L332.7,426.6 L334.5,426.5 L336.2,426.4 L338.0,426.3 L339.8,426.2 L341.5,426.1 L343.3,425.9 L345.1,425.8 L346.8,425.7 L348.6,425.6 L350.4,425.4 L352.1,425.3 L353.9,425.2 L355.7,425.1 L357.4,424.9 L359.2,424.8 L361.0,424.7 L362.7,424.6 L364.5,424.4 L366.3,424.3 L368.0,424.2 L369.8,424.1 L371.6,423.9 L373.3,423.8 L375.1,423.7 L376.9,423.5 L378.6,423.4 L380.4,423.3 L382.2,423.1 L383.9,423.0 L385.7,422.9 L387.5,422.7 L389.2,422.6 L391.0,422.4 L392.8,422.3 L394.5,422.2 L396.3,422.0 L398.1,421.9 L399.8,421.7 L401.6,421.6 L403.4,421.5 L405.1,421.3 L406.9,421.2 L408.7,421.0 L410.4,420.9 L412.2,420.7 L414.0,420.6 L415.7,420.4 L417.5,420.3 L419.3,420.2 L421.0,420.0 L422.8,419.9 L424.6,419.7 L426.3,419.6 L428.1,419.4 L429.9,419.3 L431.6,419.1 L433.4,419.0 L435.2,418.8 L436.9,418.7 L438.7,418.5 L440.5,418.4 L442.2,418.2 L444.0,418.1 L445.8,417.9 L447.5,417.8 L449.3,417.6 L451.1,417.5 L452.8,417.3 L454.6,417.1 L456.4,417.0 L458.1,416.8 L459.9,416.6 L461.7,416.5 L463.4,416.3 L465.2,416.2 L467.0,416.0 L468.7,415.8 L470.5,415.6 L472.3,415.5 L474.0,415.3 L475.8,415.1 L477.6,414.9 L479.3,414.8 L481.1,414.6 L482.9,414.4 L484.6,414.2 L486.4,414.0 L488.2,413.8 L489.9,413.6 L491.7,413.4 L493.5,413.2 L495.2,413.0 L497.0,412.8 L498.8,412.6 L500.5,412.4 L502.3,412.2 L504.1,412.0 L505.8,411.8 L507.6,411.5 L509.4,411.3 L511.1,411.1 L512.9,410.9 L514.7,410.7 L516.4,410.5 L518.2,410.2 L520.0,410.0 L521.7,409.8 L523.5,409.6 L525.3,409.4 L527.0,409.2 L528.8,408.9 L530.6,408.7 L532.3,408.5 L534.1,408.3 L535.9,408.1 L537.6,407.9 L539.4,407.7 L541.2,407.4 L543.0,407.2 L544.7,407.0 L546.5,406.8 L548.3,406.6 L550.0,406.4 L551.8,406.2 L553.6,406.0 L555.3,405.8 L557.1,405.6 L558.9,405.4 L560.6,405.2 L562.4,405.0 L564.2,404.8 L565.9,404.6 L567.7,404.4 L569.5,404.2 L571.2,404.0 L573.0,403.8 L574.8,403.6 L576.5,403.4 L578.3,403.2 L580.1,403.0 L581.8,402.8 L583.6,402.6 L585.4,402.4 L587.1,402.2 L588.9,402.0 L590.7,401.7 L592.4,401.5 L594.2,401.3 L596.0,401.1 L597.7,400.9 L599.5,400.7 L601.3,400.5 L603.0,400.3 L604.8,400.1 L606.6,399.9 L608.3,399.7 L610.1,399.5 L611.9,399.3 L613.6,399.1 L615.4,398.9 L617.2,398.7 L618.9,398.5 L620.7,398.3 L622.5,398.1 L624.2,397.9 L626.0,397.7 L627.8,397.5 L629.5,397.3 L631.3,397.1 L633.1,396.9 L634.8,396.7 L636.6,396.5 L638.4,396.3 L640.1,396.1 L641.9,395.9 L643.7,395.7 L645.4,395.5 L647.2,395.4 L649.0,395.2 L650.7,395.0 L652.5,394.8 L654.3,394.6 L656.0,394.4 L657.8,394.2 L659.6,394.0 L661.3,393.8 L663.1,393.6 L664.9,393.4 L666.6,393.2 L668.4,393.0 L670.2,392.8 L671.9,392.6 L673.7,392.4" fill="none" stroke="#9400d3" stroke-width="2.25" stroke-dasharray="12.5 5.6 2.3 5.45" stroke-dashoffset="17.77"/>
<path d="M145.4,433.6 L147.2,433.6 L148.9,433.6 L150.7,433.6 L152.5,433.6 L154.2,433.6 L156.0,433.6 L157.8,433.6 L159.5,433.6 L161.3,433.6 L163.1,433.6 L164.8,433.6 L166.6,433.6 L168.4,433.6 L170.1,433.6 L171.9,433.6 L173.7,433.5 L175.4,433.5 L177.2,433.5 L179.0,433.5 L180.7,433.5 L182.5,433.5 L184.3,433.5 L186.0,433.5 L187.8,433.5 L189.6,433.5 L191.3,433.5 L193.1,433.5 L194.9,433.5 L196.6,433.5 L198.4,433.5 L200.2,433.5 L201.9,433.5 L203.7,433.5 L205.5,433.5 L207.2,433.5 L209.0,433.5 L210.8,433.4 L212.5,433.4 L214.3,433.4 L216.1,433.4 L217.8,433.4 L219.6,433.4 L221.4,433.4 L223.1,433.4 L224.9,433.4 L226.7,433.4 L228.4,433.4 L230.2,433.4 L232.0,433.4 L233.7,433.4 L235.5,433.4 L237.3,433.4 L239.0,433.4 L240.8,433.3 L242.6,433.3 L244.3,433.3 L246.1,433.3 L247.9,433.3 L249.6,433.3 L251.4,433.3 L253.2,433.3 L254.9,433.3 L256.7,433.3 L258.5,433.3 L260.2,433.3 L262.0,433.3 L263.8,433.3 L265.5,433.2 L267.3,433.2 L269.1,433.2 L270.8,433.2 L272.6,433.2 L274.4,433.2 L276.1,433.2 L277.9,433.2 L279.7,433.2 L281.5,433.2 L283.2,433.2 L285.0,433.2 L286.8,433.2 L288.5,433.1 L290.3,433.1 L292.1,433.1 L293.8,433.1 L295.6,433.1 L297.4,433.1 L299.1,433.1 L300.9,433.1 L302.7,433.1 L304.4,433.1 L306.2,433.1 L308.0,433.1 L309.7,433.1 L311.5,433.0 L313.3,433.0 L315.0,433.0 L316.8,433.0 L318.6,433.0 L320.3,433.0 L322.1,433.0 L323.9,433.0 L325.6,433.0 L327.4,433.0 L329.2,432.9 L330.9,432.9 L332.7,432.9 L334.5,432.9 L336.2,432.9 L338.0,432.9 L339.8,432.9 L341.5,432.9 L343.3,432.9 L345.1,432.8 L346.8,432.8 L348.6,432.8 L350.4,432.8 L352.1,432.8 L353.9,432.8 L355.7,432.8 L357.4,432.8 L359.2,432.8 L361.0,432.7 L362.7,432.7 L364.5,432.7 L366.3,432.7 L368.0,432.7 L369.8,432.7 L371.6,432.7 L373.3,432.7 L375.1,432.6 L376.9,432.6 L378.6,432.6 L380.4,432.6 L382.2,432.6 L383.9,432.6 L385.7,432.6 L387.5,432.6 L389.2,432.5 L391.0,432.5 L392.8,432.5 L394.5,432.5 L396.3,432.5 L398.1,432.5 L399.8,432.5 L401.6,432.5 L403.4,432.4 L405.1,432.4 L406.9,432.4 L408.7,432.4 L410.4,432.4 L412.2,432.4 L414.0,432.4 L415.7,432.4 L417.5,432.3 L419.3,432.3 L421.0,432.3 L422.8,432.3 L424.6,432.3 L426.3,432.3 L428.1,432.3 L429.9,432.3 L431.6,432.2 L433.4,432.2 L435.2,432.2 L436.9,432.2 L438.7,432.2 L440.5,432.2 L442.2,432.2 L444.0,432.1 L445.8,432.1 L447.5,432.1 L449.3,432.1 L451.1,432.1 L452.8,432.1 L454.6,432.1 L456.4,432.1 L458.1,432.0 L459.9,432.0 L461.7,432.0 L463.4,432.0 L465.2,432.0 L467.0,432.0 L468.7,432.0 L470.5,432.0 L472.3,431.9 L474.0,431.9 L475.8,431.9 L477.6,431.9 L479.3,431.9 L481.1,431.9 L482.9,431.9 L484.6,431.8 L486.4,431.8 L488.2,431.8 L489.9,431.8 L491.7,431.8 L493.5,431.8 L495.2,431.8 L497.0,431.7 L498.8,431.7 L500.5,431.7 L502.3,431.7 L504.1,431.7 L505.8,431.7 L507.6,431.6 L509.4,431.6 L511.1,431.6 L512.9,431.6 L514.7,431.6 L516.4,431.6 L518.2,431.6 L520.0,431.5 L521.7,431.5 L523.5,431.5 L525.3,431.5 L527.0,431.5 L528.8,431.5 L530.6,431.4 L532.3,431.4 L534.1,431.4 L535.9,431.4 L537.6,431.4 L539.4,431.4 L541.2,431.3 L543.0,431.3 L544.7,431.3 L546.5,431.3 L548.3,431.3 L550.0,431.2 L551.8,431.2 L553.6,431.2 L555.3,431.2 L557.1,431.2 L558.9,431.2 L560.6,431.1 L562.4,431.1 L564.2,431.1 L565.9,431.1 L567.7,431.1 L569.5,431.0 L571.2,431.0 L573.0,431.0 L574.8,431.0 L576.5,431.0 L578.3,430.9 L580.1,430.9 L581.8,430.9 L583.6,430.9 L585.4,430.8 L587.1,430.8 L588.9,430.8 L590.7,430.8 L592.4,430.8 L594.2,430.7 L596.0,430.7 L597.7,430.7 L599.5,430.7 L601.3,430.6 L603.0,430.6 L604.8,430.6 L606.6,430.6 L608.3,430.6 L610.1,430.5 L611.9,430.5 L613.6,430.5 L615.4,430.5 L617.2,430.4 L618.9,430.4 L620.7,430.4 L622.5,430.4 L624.2,430.3 L626.0,430.3 L627.8,430.3 L629.5,430.3 L631.3,430.2 L633.1,430.2 L634.8,430.2 L636.6,430.2 L638.4,430.1 L640.1,430.1 L641.9,430.1 L643.7,430.1 L645.4,430.0 L647.2,430.0 L649.0,430.0 L650.7,430.0 L652.5,429.9 L654.3,429.9 L656.0,429.9 L657.8,429.8 L659.6,429.8 L661.3,429.8 L663.1,429.8 L664.9,429.7 L666.6,429.7 L668.4,429.7 L670.2,429.7 L671.9,429.6 L673.7,429.6" fill="none" stroke="#bc8f8f" stroke-width="1.8"/>
</g>
<rect x="57.3" y="1.9" width="616.4" height="431.7" fill="none" stroke="#000" stroke-width="1.9"/>
<path d="M101.3,433.6 v-6.3 M101.3,1.9 v6.3 M145.4,433.6 v-6.3 M145.4,1.9 v6.3 M189.4,433.6 v-6.3 M189.4,1.9 v6.3 M233.4,433.6 v-12.5 M233.4,1.9 v12.5 M277.4,433.6 v-6.3 M277.4,1.9 v6.3 M321.5,433.6 v-6.3 M321.5,1.9 v6.3 M365.5,433.6 v-6.3 M365.5,1.9 v6.3 M409.5,433.6 v-6.3 M409.5,1.9 v6.3 M453.6,433.6 v-12.5 M453.6,1.9 v12.5 M497.6,433.6 v-6.3 M497.6,1.9 v6.3 M541.6,433.6 v-6.3 M541.6,1.9 v6.3 M585.6,433.6 v-6.3 M585.6,1.9 v6.3 M629.7,433.6 v-6.3 M629.7,1.9 v6.3 M57.3,347.3 h12.5 M673.7,347.3 h-12.5 M57.3,260.9 h12.5 M673.7,260.9 h-12.5 M57.3,174.6 h12.5 M673.7,174.6 h-12.5 M57.3,88.2 h12.5 M673.7,88.2 h-12.5" fill="none" stroke="#000" stroke-width="1.3"/>
<g opacity="0.999">
<text transform="translate(51.2,441.6) scale(1,1.035)" font-size="20.8" text-anchor="end">0</text>
<text transform="translate(51.2,355.3) scale(1,1.035)" font-size="20.8" text-anchor="end">1</text>
<text transform="translate(51.2,268.9) scale(1,1.035)" font-size="20.8" text-anchor="end">2</text>
<text transform="translate(51.2,182.6) scale(1,1.035)" font-size="20.8" text-anchor="end">3</text>
<text transform="translate(51.2,96.2) scale(1,1.035)" font-size="20.8" text-anchor="end">4</text>
<text transform="translate(234.3,455.2) scale(1,1.035)" font-size="20.8" text-anchor="middle">1</text>
<text transform="translate(454.5,455.2) scale(1,1.035)" font-size="20.8" text-anchor="middle">1.5</text>
<text transform="translate(674.6,455.2) scale(1,1.035)" font-size="20.8" text-anchor="middle">2</text>
<text x="316.5" y="478.7" font-size="25.85">E</text>
<text transform="translate(332.1,489.7) scale(1.2,1)" font-size="18.35">ν</text>
<text x="348.9" y="478.7" font-size="25.85">(GeV)</text>
<g transform="translate(30.6,289.2) rotate(-90)">
<text transform="translate(0.2,0) scale(1.13,1)" font-size="25.85">σ</text>
<text x="28.8" y="0" font-size="25.85">(10</text>
<text x="63.8" y="-15.5" font-size="18.35">-41</text>
<text x="94.3" y="0" font-size="25.85">cm</text>
<text x="125.9" y="-15.5" font-size="18.35">2</text>
<text x="135.0" y="0" font-size="25.85">)</text>
</g>
<text transform="translate(303.3,62.5) scale(1.13,1)" font-size="30.15">ν</text>
<text x="335.6" y="62.5" font-size="30.15">p</text>
<text transform="translate(395.4,62.5) scale(1.17,1)" font-size="30.15">μ</text>
<text x="430.6" y="62.5" font-size="30.15">p</text>
<text x="462.9" y="62.5" font-size="30.15">K</text>
<path d="M320.1,54.7 h14.8 M327.5,47.300000000000004 v14.8 M414.8,54.7 h14.8 M422.2,47.300000000000004 v14.8 M446.6,54.7 h14.8 M454.0,47.300000000000004 v14.8" fill="none" stroke="#000" stroke-width="1.55"/>
<path d="M485.1,39.1 h10.8 M490.5,33.7 v10.8" fill="none" stroke="#000" stroke-width="1.15"/>
<path d="M360.2,55.2 H386.3 M379.6,48.3 Q382.6,53.4 387.2,55.2 Q382.6,57.0 379.6,62.1" fill="none" stroke="#000" stroke-width="1.4" stroke-linecap="round" stroke-linejoin="round"/>
</g>
<rect x="100.2" y="33.3" width="158.3" height="104.5" fill="#fff" stroke="#000" stroke-width="1"/>
<path d="M107.2,45.0 H144.6" stroke="#000" stroke-width="2.2" fill="none"/>
<path d="M107.2,63.3 H144.6" stroke="#ff0000" stroke-width="1.9" stroke-dasharray="9.85 4.05" stroke-dashoffset="0" fill="none"/>
<path d="M107.2,81.4 H144.6" stroke="#008b00" stroke-width="1.9" stroke-dasharray="8.2 3.62 1.7 3.62 1.7 3.61" stroke-dashoffset="17.16" fill="none"/>
<path d="M107.2,101.5 H144.6" stroke="#9400d3" stroke-width="2.25" stroke-dasharray="12.5 5.6 2.3 5.45" stroke-dashoffset="18.0" fill="none"/>
<path d="M107.2,123.0 H144.6" stroke="#bc8f8f" stroke-width="1.5" fill="none"/>
<g opacity="0.999">
<text x="157" y="50.5" font-size="17.42">Full Model</text>
<text x="157" y="68.8" font-size="17.42">Contact Term</text>
<text x="157" y="86.9" font-size="17.42">Cross Λ</text>
<text x="157" y="107.0" font-size="17.42">π in flight</text>
<text x="157" y="128.5" font-size="17.42">η in flight</text>
</g>
</svg></body></html>
